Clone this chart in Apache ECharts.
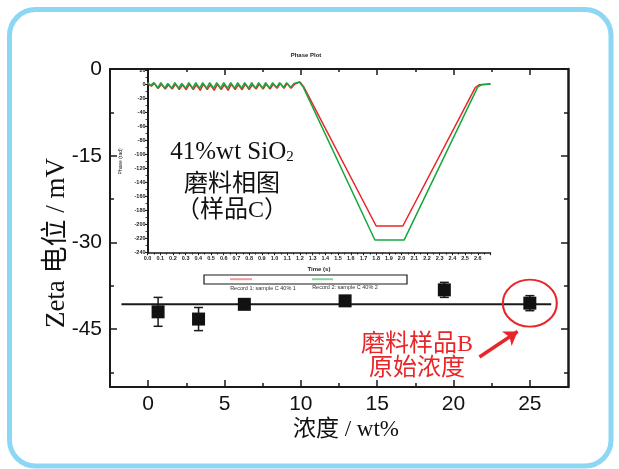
<!DOCTYPE html>
<html>
<head>
<meta charset="utf-8">
<script src="https://cdn.jsdelivr.net/npm/echarts@6/dist/echarts.min.js"></script>
<style>html,body{margin:0;padding:0;background:#fff;}#c{width:619px;height:469px;}</style>
</head>
<body>
<div id="c"></div>
<script>
// ---- main chart data ----
const concentrations = [0.65, 3.3, 6.3, 12.9, 19.4, 25.0];
const zeta = [-42.0, -43.25, -40.7, -40.1, -38.2, -40.5];
const zetaErr = [2.5, 2.0, 0.6, 0.7, 1.3, 1.3];
const fitLineX = [-1.75, 26.4];
const fitLineY = -40.7;
const highlightIndex = 5;
const arrowFrom = [21.7, -49.8];
const arrowTo = [24.2, -45.4];
// tick labels
const xMajorTicks = [0, 5, 10, 15, 20, 25];
const xMinorTicks = [2.5, 7.5, 12.5, 17.5, 22.5];
const yMajorTicks = [0, -15, -30, -45];
const yMinorTicks = [-7.5, -22.5, -37.5, -52.5];
const xAxisTitle = '浓度 / wt%';
const yAxisTitle = 'Zeta 电位 / mV';
// ---- inset (phase plot) data: [time s, phase rad] ----
const record1 = [[0,1],[0.03,-3],[0.055,1],[0.085,-6],[0.11,0],[0.14,-7],[0.165,-1],[0.195,-7],[0.22,0],[0.25,-8],[0.275,-1],[0.305,-8],[0.33,0],[0.36,-8],[0.385,-1],[0.415,-9],[0.44,0],[0.47,-8],[0.495,-1],[0.525,-9],[0.55,0],[0.58,-8],[0.605,-1],[0.635,-9],[0.66,0],[0.69,-8],[0.715,-1],[0.745,-8],[0.77,0],[0.80,-8],[0.825,-1],[0.855,-7],[0.88,0],[0.91,-7],[0.935,0],[0.965,-7],[0.99,0],[1.02,-6],[1.045,1],[1.075,-6],[1.10,1],[1.13,-6],[1.16,0],[1.20,3],[1.23,-4],[1.80,-202],[2.01,-202],[2.58,-5],[2.61,-1],[2.70,0]];
const record2 = [[0,2],[0.025,-2],[0.05,2],[0.08,-6],[0.105,2],[0.135,-6],[0.16,1],[0.19,-6],[0.215,2],[0.245,-6],[0.27,1],[0.30,-6],[0.325,2],[0.355,-6],[0.38,2],[0.41,-6],[0.435,2],[0.465,-6],[0.49,2],[0.52,-6],[0.545,2],[0.575,-6],[0.60,2],[0.63,-6],[0.655,2],[0.685,-6],[0.71,2],[0.74,-6],[0.765,2],[0.795,-6],[0.82,2],[0.85,-6],[0.875,2],[0.905,-6],[0.93,2],[0.96,-6],[0.985,2],[1.015,-5],[1.04,2],[1.07,-5],[1.095,2],[1.125,-5],[1.155,1],[1.195,3],[1.225,-4],[1.79,-222],[2.02,-222],[2.60,-4],[2.63,-1],[2.70,0]];
const record1Name = 'Record 1: sample C 40% 1';
const record2Name = 'Record 2: sample C 40% 2';

const chart = echarts.init(document.getElementById('c'), null, {renderer: 'canvas'});
const black = '#1a1a1a';
const red = '#e8262a';
const green = '#14a83c';
const serif = "'Liberation Serif','Noto Sans CJK SC',serif";
const sans = "'Liberation Sans',Arial,sans-serif";

function mainX(pos, ticks, len, labels) {
  return {
    gridIndex: 0, type: 'value', min: -2.5, max: 27.5, position: pos,
    axisLine: {show: labels, onZero: false, lineStyle: {color: black, width: 2}},
    axisTick: {show: true, inside: true, length: len, customValues: ticks, lineStyle: {color: black, width: 1.5}},
    axisLabel: labels ? {show: true, customValues: ticks, fontSize: 21, color: '#111', fontFamily: sans, margin: 7} : {show: false},
    splitLine: {show: false}
  };
}
function mainY(pos, ticks, len, labels) {
  return {
    gridIndex: 0, type: 'value', min: -55, max: 0, position: pos,
    axisLine: {show: labels, onZero: false, lineStyle: {color: black, width: 2}},
    axisTick: {show: true, inside: true, length: len, customValues: ticks, lineStyle: {color: black, width: 1.5}},
    axisLabel: labels ? {show: true, customValues: ticks, fontSize: 21, color: '#111', fontFamily: sans, margin: 8} : {show: false},
    splitLine: {show: false}
  };
}

const xAxes = [
  mainX('bottom', xMajorTicks, 7, true),
  mainX('bottom', xMinorTicks, 4, false),
  Object.assign(mainX('top', xMajorTicks, 6, false), {axisLine: {show: true, onZero: false, lineStyle: {color: black, width: 2}}}),
  mainX('top', xMinorTicks, 3, false),
  {
    gridIndex: 1, type: 'value', min: 0, max: 2.7, interval: 0.1, position: 'bottom',
    axisLine: {show: true, onZero: false, lineStyle: {color: black, width: 1.5}},
    axisTick: {show: true, length: 2.5, lineStyle: {color: black, width: 1}},
    minorTick: {show: true, splitNumber: 2, length: 2, lineStyle: {color: black, width: 0.8}},
    axisLabel: {fontSize: 5.5, color: '#222', fontWeight: 'bold', fontFamily: sans, margin: 3,
      formatter: v => (v > 2.65 ? '' : v.toFixed(1))},
    splitLine: {show: false},
    name: 'Time (s)', nameLocation: 'middle', nameGap: 14,
    nameTextStyle: {fontSize: 6, fontWeight: 'bold', fontFamily: sans, color: '#222'}
  }
];
const yAxes = [
  mainY('left', yMajorTicks, 7, true),
  mainY('left', yMinorTicks, 4, false),
  Object.assign(mainY('right', yMajorTicks, 7, false), {axisLine: {show: true, onZero: false, lineStyle: {color: black, width: 2.5}}}),
  mainY('right', yMinorTicks, 4, false),
  {
    gridIndex: 1, type: 'value', min: -240, max: 20, interval: 20, position: 'left',
    axisLine: {show: true, onZero: false, lineStyle: {color: black, width: 2}},
    axisTick: {show: true, length: 2.5, lineStyle: {color: black, width: 1}},
    minorTick: {show: true, splitNumber: 2, length: 2, lineStyle: {color: black, width: 0.8}},
    axisLabel: {fontSize: 5.5, color: '#222', fontWeight: 'bold', fontFamily: sans, margin: 2},
    splitLine: {show: false},
    name: 'Phase (rad)', nameLocation: 'middle', nameGap: 17,
    nameTextStyle: {fontSize: 5, fontFamily: sans, color: '#222'}
  }
];

const errData = concentrations.map((c, i) => [c, zeta[i], zetaErr[i]]);
const pointData = concentrations.map((c, i) => [c, zeta[i]]);

chart.setOption({
  animation: false,
  backgroundColor: '#fff',
  grid: [
    {left: 110, top: 69, width: 458, height: 318},
    {left: 147.5, top: 70, width: 343, height: 182.7}
  ],
  xAxis: xAxes,
  yAxis: yAxes,
  series: [
    {
      type: 'line', xAxisIndex: 0, yAxisIndex: 0, symbol: 'none',
      data: [[fitLineX[0], fitLineY], [fitLineX[1], fitLineY]],
      lineStyle: {color: black, width: 2}, z: 2
    },
    {
      type: 'custom', xAxisIndex: 0, yAxisIndex: 0, data: errData, z: 3,
      renderItem: function (params, api) {
        const x = api.value(0), y = api.value(1), e = api.value(2);
        const t = api.coord([x, y + e]);
        const b = api.coord([x, y - e]);
        const hw = 4.5;
        const st = {stroke: black, lineWidth: 1.5};
        return {type: 'group', children: [
          {type: 'line', shape: {x1: t[0], y1: t[1], x2: b[0], y2: b[1]}, style: st},
          {type: 'line', shape: {x1: t[0] - hw, y1: t[1], x2: t[0] + hw, y2: t[1]}, style: st},
          {type: 'line', shape: {x1: b[0] - hw, y1: b[1], x2: b[0] + hw, y2: b[1]}, style: st}
        ]};
      }
    },
    {
      type: 'scatter', xAxisIndex: 0, yAxisIndex: 0, data: pointData,
      symbol: 'rect', symbolSize: 13, itemStyle: {color: '#111', opacity: 1}, z: 4
    },
    {
      type: 'scatter', xAxisIndex: 0, yAxisIndex: 0, data: [pointData[highlightIndex]],
      symbol: 'circle', symbolSize: [54, 47], z: 5, silent: true,
      itemStyle: {color: 'rgba(0,0,0,0)', borderColor: red, borderWidth: 2, opacity: 1}
    },
    {
      type: 'lines', coordinateSystem: 'cartesian2d', xAxisIndex: 0, yAxisIndex: 0, z: 5,
      data: [{coords: [arrowFrom, arrowTo]}],
      symbol: ['none', 'arrow'], symbolSize: 13,
      lineStyle: {color: red, width: 3.5, opacity: 1}
    },
    {
      type: 'line', name: record1Name, xAxisIndex: 4, yAxisIndex: 4, data: record1,
      symbol: 'none', lineStyle: {color: red, width: 1.5}, z: 6
    },
    {
      type: 'line', name: record2Name, xAxisIndex: 4, yAxisIndex: 4, data: record2,
      symbol: 'none', lineStyle: {color: green, width: 1.5}, z: 7
    }
  ],
  graphic: [
    {type: 'rect', shape: {x: 9.5, y: 9.5, width: 601.5, height: 456.5, r: 26}, style: {fill: 'none', stroke: '#8dd7f4', lineWidth: 5}, z: 100},
    {type: 'text', x: 57, y: 243, rotation: Math.PI / 2, style: {text: yAxisTitle, font: '27px ' + serif, fill: '#111', align: 'center', verticalAlign: 'middle'}, z: 100},
    {type: 'text', x: 346, y: 430, style: {text: xAxisTitle, font: '23px ' + serif, fill: '#111', align: 'center', verticalAlign: 'middle'}, z: 100},
    {type: 'text', x: 306, y: 55, style: {text: 'Phase Plot', font: 'bold 6px ' + sans, fill: '#222', align: 'center', verticalAlign: 'middle'}, z: 100},
    {type: 'text', x: 232, y: 152, style: {
      text: '{a|41%wt SiO}{s|2}', align: 'center', verticalAlign: 'middle',
      rich: {a: {fontSize: 25, fontFamily: serif, fill: '#111'}, s: {fontSize: 15, fontFamily: serif, fill: '#111', verticalAlign: 'bottom', padding: [10, 0, 0, 0]}}
    }, z: 100},
    {type: 'text', x: 232, y: 185, style: {text: '磨料相图', font: '24px ' + serif, fill: '#111', align: 'center', verticalAlign: 'middle'}, z: 100},
    {type: 'text', x: 232, y: 211, style: {text: '（样品C）', font: '24px ' + serif, fill: '#111', align: 'center', verticalAlign: 'middle'}, z: 100},
    {type: 'rect', shape: {x: 204, y: 275, width: 203, height: 9}, style: {fill: '#fff', stroke: black, lineWidth: 1.2}, z: 100},
    {type: 'line', shape: {x1: 230, y1: 279.2, x2: 252, y2: 279.2}, style: {stroke: '#f29a9a', lineWidth: 2}, z: 101},
    {type: 'line', shape: {x1: 312, y1: 279.2, x2: 333, y2: 279.2}, style: {stroke: '#86d3a0', lineWidth: 2}, z: 101},
    {type: 'text', x: 263, y: 288.5, style: {text: record1Name, font: '5.5px ' + sans, fill: '#333', align: 'center', verticalAlign: 'middle'}, z: 100},
    {type: 'text', x: 345, y: 287, style: {text: record2Name, font: '5.5px ' + sans, fill: '#333', align: 'center', verticalAlign: 'middle'}, z: 100},
    {type: 'text', x: 417, y: 345, style: {text: '磨料样品B', font: '24px ' + serif, fill: red, align: 'center', verticalAlign: 'middle'}, z: 100},
    {type: 'text', x: 417, y: 369, style: {text: '原始浓度', font: '24px ' + serif, fill: red, align: 'center', verticalAlign: 'middle'}, z: 100}
  ]
});
</script>
</body>
</html>
